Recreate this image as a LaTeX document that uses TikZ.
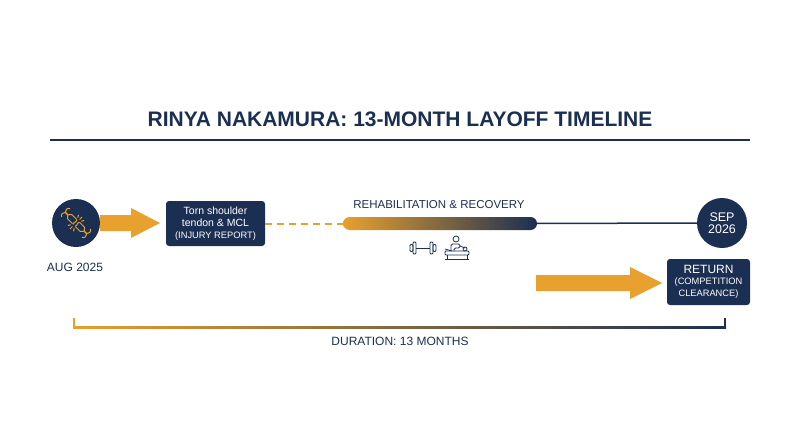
\documentclass[tikz,border=0pt]{standalone}
\usepackage{fontspec}
\setmainfont{Liberation Sans}
\begin{document}
\definecolor{navy}{HTML}{1B2F52}
\definecolor{org}{HTML}{E8A02E}
\begin{tikzpicture}[x=1pt,y=-1pt,
  box/.style={fill=navy,rounded corners=3pt,text=white,align=center,inner sep=0pt},
  circ/.style={circle,fill=navy,minimum size=50pt,inner sep=0pt,text=white,align=center},
  bigarrow/.style={fill=org,draw=none}]
\useasboundingbox (0,0) rectangle (800,447);
\node[text=navy,font=\bfseries\fontsize{21}{24}\selectfont] (title) at (400,119) {RINYA NAKAMURA: 13-MONTH LAYOFF TIMELINE};
\draw[navy,line width=1.5pt] (50,140) -- (750,140);
% start circle
\node[circ,minimum size=48pt] (c1) at (76,223) {};
\begin{scope}[shift={(76,223)},rotate=-45,draw=org,line width=1pt,rounded corners=1pt]
  % left half of bone
  \draw (-2,-3) -- (-10,-3) arc (0:250:3.2) ;
  \draw (-2,3) -- (-10,3) arc (0:-250:3.2);
  \draw (-2,-3) -- (-0.5,-1) -- (-2,1) -- (-1,3);
  % right half
  \draw (2,-3) -- (10,-3) arc (180:-70:3.2);
  \draw (2,3) -- (10,3) arc (180:430:3.2);
  \draw (2,-3) -- (1,-1) -- (2.5,1) -- (1.5,3);
  \draw (0,-5) -- (0,-8.5) (0,5) -- (0,8.5) (-2.5,-5) -- (-4,-7.5) (2.5,5) -- (4,7.5) (2.5,-5) -- (4,-7.5) (-2.5,5) -- (-4,7.5);
\end{scope}
\node[text=navy,font=\fontsize{12}{14}\selectfont] (aug) at (75,267) {AUG 2025};
% arrow 1
\fill[bigarrow] (100,215) -- (131,215) -- (131,208) -- (160,223) -- (131,238) -- (131,231) -- (100,231) -- cycle;
\node[box,minimum width=99pt,minimum height=45pt] (b1) at (215.5,223.5) {\fontsize{10.5}{12.5}\selectfont Torn shoulder\\\fontsize{10.5}{12.5}\selectfont tendon \& MCL\\\fontsize{9.3}{11}\selectfont (INJURY REPORT)};
\coordinate (g0) at (343,223.5);
\draw[draw=org,line width=2pt,dash pattern=on 7pt off 5pt] (b1.east) -- (g0);
\shade[left color=org,right color=navy,rounded corners=6.5pt] (343,217) rectangle (537,230);
\node[circ] (c2) at (722,223) {\fontsize{12.5}{16}\selectfont SEP\\\fontsize{12.5}{16}\selectfont 2026};
\coordinate (g1) at (536,223.5);
\draw[draw=navy,line width=1.5pt] (g1) -- (c2.west);
\node[text=navy,font=\fontsize{11.5}{13}\selectfont] (rehab) at (439,205) {REHABILITATION \& RECOVERY};
% dumbbell
\begin{scope}[shift={(423,248)},navy,line width=0.8pt]
  \draw (-7,0) -- (7,0);
  \draw[rounded corners=1pt] (-10,-6) rectangle (-7,6) (7,-6) rectangle (10,6);
  \draw[rounded corners=1pt] (-13,-3.5) rectangle (-10,3.5) (10,-3.5) rectangle (13,3.5);
\end{scope}
% therapist
\begin{scope}[shift={(457,248)},navy,line width=0.8pt]
  \draw (-1,-9) circle (3);
  \draw[rounded corners=1.5pt] (-6,3) -- (-6,-4) -- (3,-4) -- (3,0) -- (-3,0) -- (-3,3);
  \draw (3,-2) -- (8,0);
  \draw[rounded corners=1pt] (-12,3) rectangle (12,7);
  \draw (-10,7) -- (-10,11) (10,7) -- (10,11) (-12,11) -- (12,11);
  \draw (8,1) circle (2);
  \draw (-12,1) -- (-5,3);
\end{scope}
% arrow 2
\fill[bigarrow] (536,275) -- (630,275) -- (630,267) -- (662,283) -- (630,299) -- (630,291) -- (536,291) -- cycle;
\node[box,minimum width=83pt,minimum height=46pt] (b2) at (708.5,282) {\fontsize{12}{14}\selectfont RETURN\\[-1pt]\fontsize{9.3}{11.5}\selectfont (COMPETITION\\\fontsize{9.3}{11.5}\selectfont CLEARANCE)};
% bracket
\coordinate (k0) at (74,318); \coordinate (k1) at (74,327);
\coordinate (k2) at (725,327); \coordinate (k3) at (725,318);
\shade[left color=org,right color=navy] (73,326) rectangle (726,328.2);
\draw[draw=org,line width=1.5pt] (k0) -- (k1);
\draw[draw=navy,line width=1.5pt] (k2) -- (k3);
\node[text=navy,font=\fontsize{12}{14}\selectfont] (dur) at (400,341) {DURATION: 13 MONTHS};
\end{tikzpicture}
\end{document}
